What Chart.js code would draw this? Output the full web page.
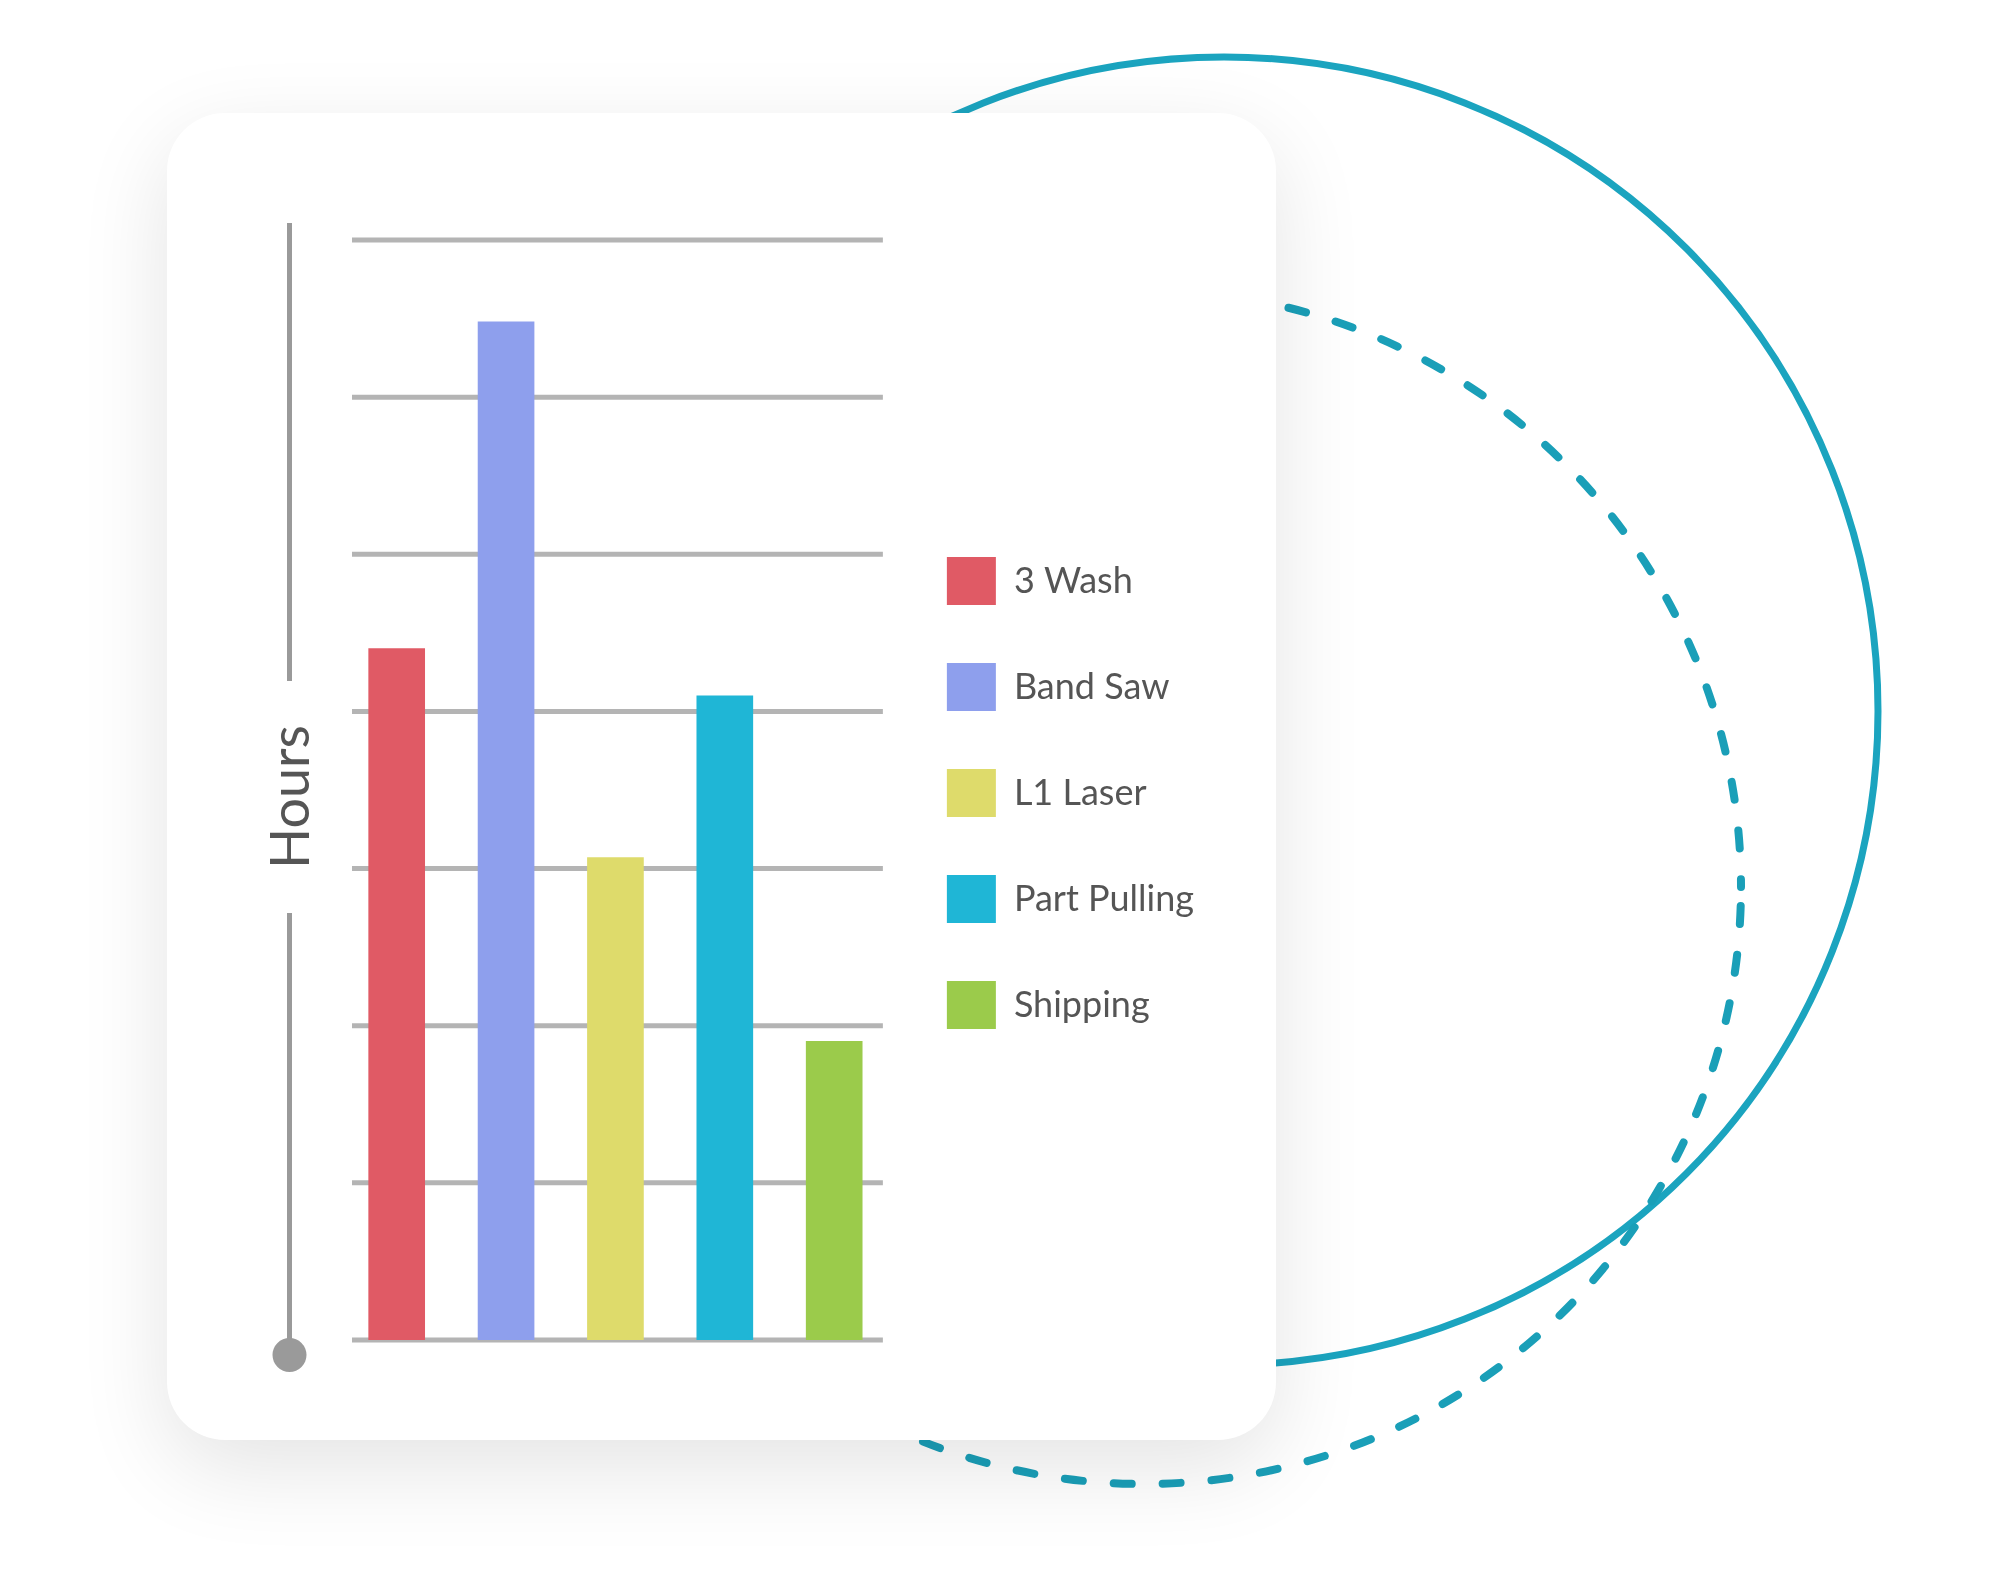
<!DOCTYPE html>
<html>
<head>
<meta charset="utf-8">
<script src="https://cdn.jsdelivr.net/npm/chart.js@4.4.1/dist/chart.umd.min.js"></script>
<style>
    html, body { margin: 0; padding: 0; background: #ffffff; }
    body { width: 2000px; height: 1579px; position: relative; overflow: hidden; font-family: Lato, sans-serif; }
    .rings { position: absolute; left: 0; top: 0; z-index: 1; }
    .card {
        position: absolute; left: 167px; top: 113px; width: 1109px; height: 1327px;
        background: #ffffff; border-radius: 58px; z-index: 2;
        box-shadow: 0 28px 90px rgba(0, 0, 0, 0.11);
    }
    .card canvas { position: absolute; left: 0; top: 0; }
</style>
</head>
<body>
<svg class="rings" width="2000" height="1579" viewBox="0 0 2000 1579">
    <circle cx="1224" cy="711" r="654" fill="none" stroke="#1ba4bf" stroke-width="7"/>
    <circle cx="1144" cy="887" r="597" fill="none" stroke="#1a9fb8" stroke-width="8"
            stroke-dasharray="18 31" stroke-dashoffset="30" stroke-linecap="round"/>
</svg>
<div class="card">
    <canvas id="hours-chart" width="1109" height="1327"></canvas>
</div>
<script>
    const categories = ['3 Wash', 'Band Saw', 'L1 Laser', 'Part Pulling', 'Shipping'];
    const hours = [44, 64.8, 30.7, 41, 19];
    const barColors = ['#e05a65', '#8e9fed', '#dedb6b', '#1fb6d6', '#9bcb4b'];
    const gridTicks = [0, 10, 20, 30, 40, 50, 60, 70];
    const axisTitle = 'Hours';

    const textColor = '#555555';

    // horizontal rules sit a little inside the plot area, bars on top
    const gridPlugin = {
        id: 'insetGrid',
        beforeDatasetsDraw(chart) {
            const { ctx, chartArea } = chart;
            const y = chart.scales.y;
            ctx.save();
            ctx.strokeStyle = '#b4b4b4';
            ctx.lineWidth = 5;
            gridTicks.forEach((tick) => {
                const py = y.getPixelForValue(tick);
                ctx.beginPath();
                ctx.moveTo(chartArea.left + 10, py);
                ctx.lineTo(chartArea.right - 6, py);
                ctx.stroke();
            });
            ctx.restore();
        },
    };

    // vertical axis line with a gap for the title and a dot at the bottom
    const axisPlugin = {
        id: 'axisLine',
        afterDraw(chart) {
            const { ctx, chartArea } = chart;
            const y = chart.scales.y;
            const x = chartArea.left - 52.5;
            const top = y.getPixelForValue(gridTicks[gridTicks.length - 1]) - 17;
            const base = y.getPixelForValue(gridTicks[0]);
            const mid = (y.getPixelForValue(30) + y.getPixelForValue(40)) / 2 + 7;

            ctx.save();
            ctx.strokeStyle = '#9a9a9a';
            ctx.fillStyle = '#9a9a9a';
            ctx.lineWidth = 5;
            ctx.beginPath();
            ctx.moveTo(x, top);
            ctx.lineTo(x, mid - 116);
            ctx.moveTo(x, mid + 116);
            ctx.lineTo(x, base + 10);
            ctx.stroke();
            ctx.beginPath();
            ctx.arc(x, base + 15, 17, 0, Math.PI * 2);
            ctx.fill();

            ctx.translate(x, mid);
            ctx.rotate(-Math.PI / 2);
            ctx.fillStyle = textColor;
            ctx.font = '400 54px Lato';
            ctx.textAlign = 'center';
            ctx.textBaseline = 'middle';
            ctx.fillText(axisTitle, 0, 2);
            ctx.restore();
        },
    };

    new Chart(document.getElementById('hours-chart'), {
        type: 'bar',
        data: {
            labels: categories,
            datasets: [{
                data: hours,
                backgroundColor: barColors,
                borderWidth: 0,
                barThickness: 56,
            }],
        },
        options: {
            responsive: false,
            animation: false,
            devicePixelRatio: 1,
            layout: { padding: { left: 175, right: 72, top: 127, bottom: 100 } },
            scales: {
                x: { display: false },
                y: { display: false, min: 0, max: 70, ticks: { stepSize: 10 } },
            },
            plugins: {
                tooltip: { enabled: false },
                legend: {
                    position: 'right',
                    maxWidth: 318,
                    title: { display: true, text: '', padding: 1, font: { size: 4, lineHeight: 1 } },
                    labels: {
                        boxWidth: 49,
                        boxHeight: 48,
                        padding: 58,
                        color: textColor,
                        font: { family: 'Lato', size: 36, weight: '400' },
                        generateLabels: () => categories.map((name, i) => ({
                            text: name,
                            fillStyle: barColors[i],
                            strokeStyle: barColors[i],
                            lineWidth: 0,
                            fontColor: textColor,
                            index: i,
                        })),
                    },
                },
            },
        },
        plugins: [gridPlugin, axisPlugin],
    });
</script>
</body>
</html>
